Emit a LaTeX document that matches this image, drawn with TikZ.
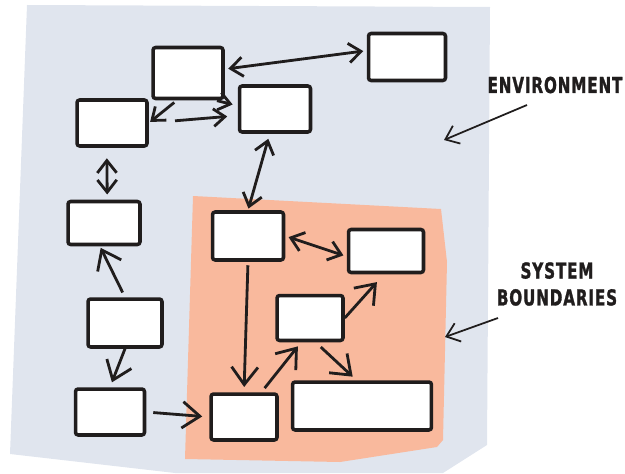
\documentclass[tikz,border=0pt]{standalone}
\usepackage{fontspec}
\usepackage{xcolor}
\usetikzlibrary{arrows.meta,positioning}

\newfontfamily\handfont[FakeStretch=0.69, LetterSpace=4, BoldFeatures={FakeBold=1.3}]{DejaVu Sans}

\definecolor{envfill}{RGB}{224,229,238}
\definecolor{sysfill}{RGB}{249,185,157}
\definecolor{ink}{RGB}{32,29,29}

\tikzset{
  blok/.style={draw=ink, fill=white, line width=2pt, rounded corners=1.5pt, inner sep=0pt},
  flow/.style={draw=ink, line width=1.6pt, -{Straight Barb[length=10pt,width=15pt,line width=1.6pt]}},
  flowsmall/.style={draw=ink, line width=1.6pt, -{Straight Barb[length=6.5pt,width=10pt,line width=1.6pt]}},
  twoway/.style={draw=ink, line width=1.6pt, {Straight Barb[length=7pt,width=11pt,line width=1.6pt]}-{Straight Barb[length=7pt,width=11pt,line width=1.6pt]}},
  pointer/.style={draw=ink, line width=1pt, -{Straight Barb[length=7pt,width=11pt,line width=1pt]}},
  tag/.style={font=\handfont\bfseries\fontsize{12.5}{15.3}\selectfont, text=ink, align=center, inner sep=0pt}
}

\begin{document}
\begin{tikzpicture}[x=0.02cm, y=-0.02cm]
\useasboundingbox (0,0) rectangle (625,473);

% okoli
\fill[envfill] (27,5) -- (490,7) -- (487,445) -- (443,473) -- (175,473) -- (10,454) -- cycle;
% hranice systemu
\fill[sysfill] (193,196) -- (441,209) -- (447,262) -- (443,440) -- (437,447) -- (340,462) -- (185,459) -- cycle;

% bloky venku
\node[blok, minimum width=1.40cm, minimum height=1.02cm] (a) at (188,73) {};
\node[blok, minimum width=1.54cm, minimum height=0.94cm] (b) at (407,57) {};
\node[blok, minimum width=1.40cm, minimum height=0.92cm] (c) at (112,123) {};
\node[blok, minimum width=1.42cm, minimum height=0.92cm] (d) at (275,109) {};
\node[blok, minimum width=1.44cm, minimum height=0.86cm] (e) at (104,223) {};
\node[blok, minimum width=1.48cm, minimum height=0.96cm] (g) at (125,323) {};
\node[blok, minimum width=1.38cm, minimum height=0.92cm] (h) at (110,412) {};

% bloky uvnitr
\node[blok, minimum width=1.42cm, minimum height=0.96cm] (f) at (248,236) {};
\node[blok, minimum width=1.50cm, minimum height=0.86cm] (k) at (386,251) {};
\node[blok, minimum width=1.32cm, minimum height=0.90cm] (j) at (310,318) {};
\node[blok, minimum width=1.32cm, minimum height=0.92cm] (i) at (244,417) {};
\node[blok, minimum width=2.78cm, minimum height=0.96cm] (l) at (362,406) {};

% vazby
\draw[twoway, shorten <=2pt, shorten >=2pt] (a.6) -- (b.171);
\draw[flowsmall, shorten <=2pt, shorten >=1pt] (a.248) -- (c.east);
\draw[flowsmall, shorten <=1pt, shorten >=3pt] (a.-45) -- (d.175);
\draw[flowsmall, shorten <=15pt, shorten >=6pt] (c.east) -- (d.190);
\draw[twoway, shorten <=6pt, shorten >=3pt] (c.258) -- (e.82);
\draw[twoway, shorten <=3pt, shorten >=1pt] (d.258) -- (f.north);
\draw[flow, shorten <=3pt, shorten >=1pt] (g.north) -- (e.260);
\draw[flow, shorten >=3pt] (g.south) -- (h.north);
\draw[flow, shorten <=4pt, shorten >=4pt] (h.east) -- (i.west);
\draw[flow, shorten <=2pt, shorten >=3pt] (f.south) -- (i.north);
\draw[flow, shorten <=3pt, shorten >=3pt] (i.55) -- (j.250);
\draw[flow, shorten >=6pt] (j.east) -- (k.265);
\draw[flow, shorten <=4pt, shorten >=3pt] (j.283) -- (l.102);
\draw[twoway, shorten <=2pt, shorten >=2pt] (f.east) -- (k.188);

% popisky
\node[tag] (env) at (555,85) {ENVIRONMENT};
\coordinate (envtail) at (527,105);
\coordinate (envtip) at (444,140);
\draw[pointer] (envtail) -- (envtip);

\node[tag] (sys) at (557,284) {SYSTEM\\BOUNDARIES};
\coordinate (systail) at (498,318);
\coordinate (systip) at (445,337);
\draw[pointer] (systail) -- (systip);

\end{tikzpicture}
\end{document}
